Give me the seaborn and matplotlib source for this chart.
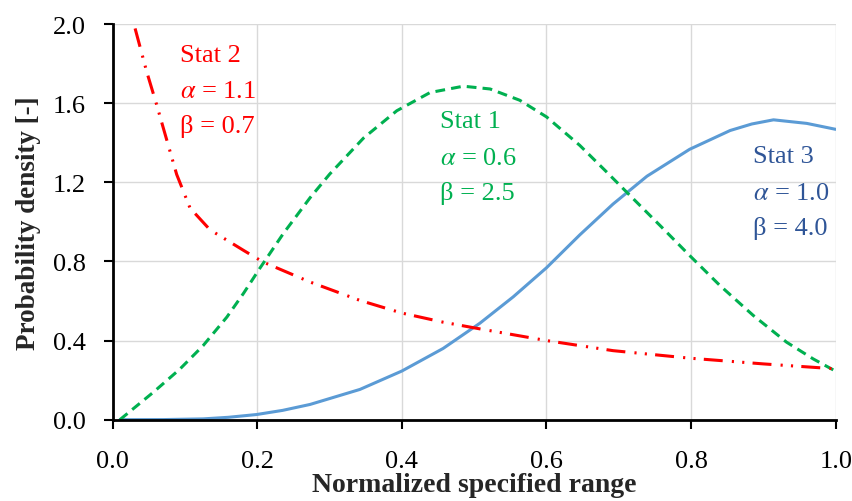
import numpy as np
import pandas as pd
import matplotlib
matplotlib.use("Agg")
import matplotlib.pyplot as plt
import seaborn as sns

# values
x_stat1 = [0.01, 0.056, 0.093, 0.125, 0.158, 0.181, 0.204, 0.236, 0.273, 0.30, 0.347,
           0.393, 0.439, 0.485, 0.522, 0.563, 0.60, 0.646, 0.683, 0.72, 0.757, 0.798,
           0.84, 0.886, 0.932, 0.969, 1.0]
y_stat1 = [0.0, 0.138, 0.256, 0.374, 0.519, 0.639, 0.768, 0.941, 1.122, 1.241, 1.424,
           1.562, 1.654, 1.686, 1.672, 1.615, 1.531, 1.387, 1.253, 1.117, 0.982, 0.83,
           0.678, 0.527, 0.392, 0.307, 0.245]

x_stat2 = [0.031, 0.047, 0.061, 0.070, 0.0885, 0.107, 0.1346, 0.181, 0.208,
           0.273, 0.342, 0.40, 0.457, 0.508, 0.60, 0.692, 0.798, 0.90, 1.0]
y_stat2 = [1.978, 1.76, 1.59, 1.475, 1.24, 1.07, 0.96, 0.856, 0.797,
           0.696, 0.603, 0.539, 0.493, 0.459, 0.40, 0.349, 0.311, 0.282, 0.257]

x_stat3 = [0.01, 0.07, 0.125, 0.16, 0.199, 0.235, 0.273, 0.342, 0.40, 0.457, 0.508,
           0.554, 0.60, 0.646, 0.692, 0.739, 0.798, 0.854, 0.884, 0.914, 0.96, 1.0]
y_stat3 = [0.0, 0.0005, 0.004, 0.012, 0.026, 0.047, 0.077, 0.153, 0.246, 0.36, 0.488,
           0.621, 0.768, 0.934, 1.09, 1.231, 1.367, 1.462, 1.495, 1.516, 1.498, 1.468]

green = "#00B050"
red = "#FF0000"
blue = "#5B9BD5"
dark_blue = "#2F5597"

sns.set_theme(style="whitegrid")
plt.rcParams['font.family'] = ['Liberation Serif', 'DejaVu Serif']
plt.rcParams['mathtext.fontset'] = 'stix'

fig = plt.figure(figsize=(8.53, 5.02), dpi=100)
ax = fig.add_axes([0.1321, 0.162, 0.8476, 0.788])

df1 = pd.DataFrame({'x': x_stat1, 'y': y_stat1})
df2 = pd.DataFrame({'x': x_stat2, 'y': y_stat2})
df3 = pd.DataFrame({'x': x_stat3, 'y': y_stat3})

sns.lineplot(data=df3, x='x', y='y', ax=ax, color=blue, linewidth=2.2, sort=False)
sns.lineplot(data=df1, x='x', y='y', ax=ax, color=green, linewidth=2.2, sort=False)
ax.lines[-1].set_dashes((3.2, 2.0))
sns.lineplot(data=df2, x='x', y='y', ax=ax, color=red, linewidth=2.2, sort=False)
ax.lines[-1].set_dashes((6.2, 3.0, 0.7, 2.7, 0.7, 2.7))
for ln in ax.lines:
    ln.set_solid_joinstyle('round')
    ln.set_dash_joinstyle('round')

ax.set_xlim(0, 1)
ax.set_ylim(0, 2)
ax.set_xticks(np.arange(0, 1.01, 0.2))
ax.set_yticks(np.arange(0, 2.01, 0.4))
ax.xaxis.set_major_formatter(matplotlib.ticker.FormatStrFormatter('%.1f'))
ax.yaxis.set_major_formatter(matplotlib.ticker.FormatStrFormatter('%.1f'))

ax.grid(True, color="#D9D9D9", linewidth=1)
for s in ['top', 'right']:
    ax.spines[s].set_visible(False)
for s in ['left', 'bottom']:
    ax.spines[s].set_color('black')
    ax.spines[s].set_linewidth(2)
ax.tick_params(axis='both', which='major', direction='out', length=6.5, width=1.5,
               color='black', labelsize=19, labelcolor='black', left=True, bottom=True)
ax.tick_params(axis='x', pad=15)
ax.tick_params(axis='y', pad=13)

ax.set_xlabel("Normalized specified range", fontsize=20, fontweight='bold', labelpad=0)
ax.set_ylabel("Probability density [-]", fontsize=19.5, fontweight='bold', labelpad=8)

txt = dict(fontsize=19, va='baseline', ha='left')
ax.text(0.093, 1.813, "Stat 2", color=red, **txt)
ax.text(0.093, 1.633, r"$\alpha$ = 1.1", color=red, **txt)
ax.text(0.093, 1.456, "β = 0.7", color=red, **txt)

ax.text(0.453, 1.482, "Stat 1", color=green, **txt)
ax.text(0.453, 1.295, r"$\alpha$ = 0.6", color=green, **txt)
ax.text(0.453, 1.117, "β = 2.5", color=green, **txt)

ax.text(0.885, 1.305, "Stat 3", color=dark_blue, **txt)
ax.text(0.885, 1.117, r"$\alpha$ = 1.0", color=dark_blue, **txt)
ax.text(0.885, 0.94, "β = 4.0", color=dark_blue, **txt)

fig.savefig("out.png", dpi=100)
